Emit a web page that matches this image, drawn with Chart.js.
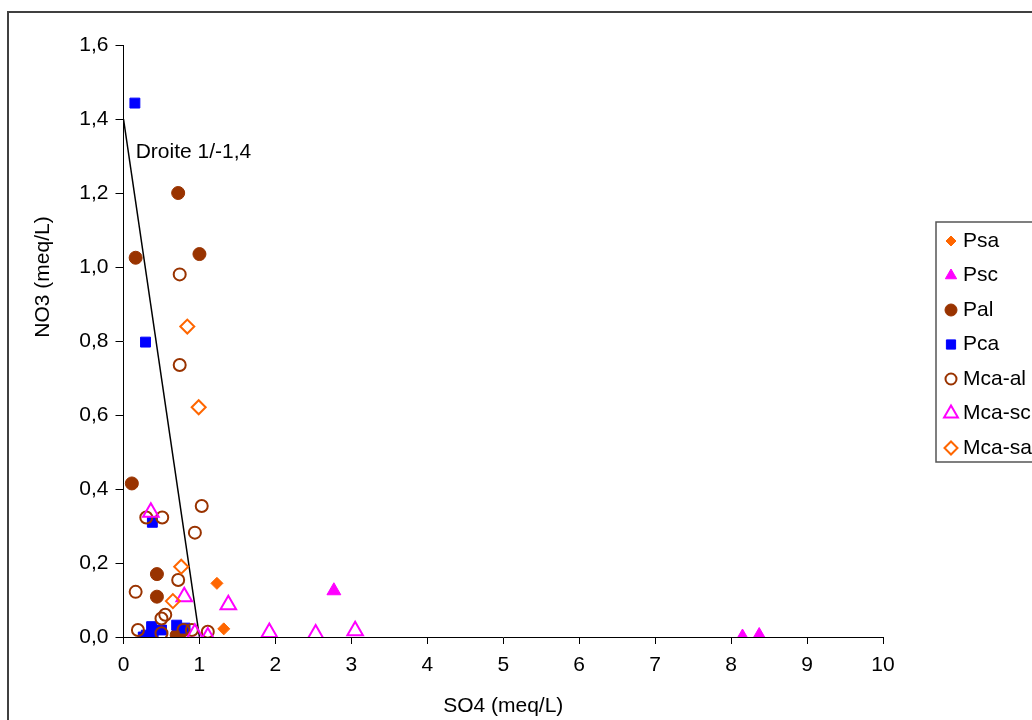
<!DOCTYPE html>
<html>
<head>
<meta charset="utf-8">
<script src="https://cdn.jsdelivr.net/npm/chart.js@4.4.1/dist/chart.umd.min.js"></script>
<style>
  html, body { margin: 0; padding: 0; background: #ffffff; overflow: hidden; }
  #wrap { position: absolute; left: 0; top: 0; width: 1032px; height: 720px; }
</style>
</head>
<body>
<div id="wrap"><canvas id="c" width="1032" height="720"></canvas></div>
<script>
// ---- Data (SO4 meq/L, NO3 meq/L) ----
const seriesNames = ['Psa', 'Psc', 'Pal', 'Pca', 'Mca-al', 'Mca-sc', 'Mca-sa'];

const psa = [[1.23, 0.145], [1.32, 0.022]];
const psc = [[2.77, 0.125], [8.15, 0.0], [8.37, 0.004]];
const pal = [[0.72, 1.20], [0.16, 1.025], [1.00, 1.035], [0.11, 0.415], [0.44, 0.17],
             [0.44, 0.109], [0.74, 0.01], [0.70, 0.005]];
const pca = [[0.15, 1.443], [0.29, 0.797], [0.38, 0.31], [0.37, 0.028], [0.30, 0.005],
             [0.39, 0.005], [0.50, 0.019], [0.70, 0.032], [0.81, 0.024], [0.26, 0.0]];
const mcaAl = [[0.74, 0.98], [0.74, 0.735], [1.03, 0.354], [0.30, 0.323], [0.51, 0.323],
               [0.94, 0.282], [0.16, 0.122], [0.72, 0.154], [0.50, 0.05], [0.55, 0.06],
               [0.19, 0.019], [0.50, 0.01], [0.79, 0.019], [0.90, 0.019], [1.11, 0.014]];
const mcaSc = [[0.36, 0.337], [0.80, 0.109], [1.38, 0.087], [0.94, 0.01], [1.11, 0.0],
               [1.92, 0.012], [2.53, 0.008], [3.05, 0.017]];
const mcaSa = [[0.84, 0.839], [0.99, 0.621], [0.76, 0.19], [0.65, 0.097]];

const droiteLine = [[0, 1.4], [1, 0]];
const droiteText = 'Droite 1/-1,4';
const droiteAnchor = [0.16, 1.31];

const xTitle = 'SO4 (meq/L)';
const yTitle = 'NO3 (meq/L)';

const xMin = 0, xMax = 10, xStep = 1;
const yMin = 0, yMax = 1.6, yStep = 0.2;

// ---- Styles ----
const FONT = "'Liberation Sans', Arial, sans-serif";
const FS = 21;
const ORANGE = '#FF6600', MAGENTA = '#FF00FF', BROWN = '#993300', BLUE = '#0000FF';
const CLEAR = 'rgba(0,0,0,0)';

const styles = [
  { pointStyle: 'rectRot',  radius: 6,   fill: ORANGE,  stroke: ORANGE,  bw: 1,   lr: 5 },
  { pointStyle: 'triangle', radius: 8,   fill: MAGENTA, stroke: MAGENTA, bw: 1,   lr: 6.5 },
  { pointStyle: 'circle',   radius: 6.5, fill: BROWN,   stroke: BROWN,   bw: 1,   lr: 6 },
  { pointStyle: 'rect',     radius: 7,   fill: BLUE,    stroke: BLUE,    bw: 1,   lr: 6.5 },
  { pointStyle: 'circle',   radius: 6,   fill: CLEAR,   stroke: BROWN,   bw: 2,   lr: 5.5 },
  { pointStyle: 'triangle', radius: 9,   fill: CLEAR,   stroke: MAGENTA, bw: 2,   lr: 8 },
  { pointStyle: 'rectRot',  radius: 7,   fill: CLEAR,   stroke: ORANGE,  bw: 2,   lr: 6.5 }
];
const seriesData = [psa, psc, pal, pca, mcaAl, mcaSc, mcaSa];

const toPts = arr => arr.map(p => ({ x: p[0], y: p[1] }));

const datasets = seriesData.map((d, i) => ({
  type: 'scatter',
  label: seriesNames[i],
  data: toPts(d),
  pointStyle: styles[i].pointStyle,
  pointRadius: styles[i].radius,
  pointHoverRadius: styles[i].radius,
  backgroundColor: styles[i].fill,
  borderColor: styles[i].stroke,
  borderWidth: styles[i].bw,
  pointBorderWidth: styles[i].bw,
  order: seriesNames.length - i
}));

datasets.push({
  type: 'line',
  label: 'Droite',
  data: toPts(droiteLine),
  borderColor: '#000000',
  borderWidth: 1.5,
  pointRadius: 0,
  fill: false,
  tension: 0,
  order: seriesNames.length + 5
});

const fmt = v => (Math.round(v * 10) / 10).toFixed(1).replace('.', ',');

const decorPlugin = {
  id: 'decor',
  beforeDraw(chart) {
    const ctx = chart.ctx;
    ctx.save();
    ctx.fillStyle = '#ffffff';
    ctx.fillRect(0, 0, chart.width, chart.height);
    ctx.restore();
  },
  afterDraw(chart) {
    const ctx = chart.ctx;
    const xs = chart.scales.x, ys = chart.scales.y;
    ctx.save();
    // outer frame
    ctx.strokeStyle = '#404040';
    ctx.lineWidth = 2;
    ctx.beginPath();
    ctx.moveTo(8, chart.height + 5);
    ctx.lineTo(8, 12);
    ctx.lineTo(chart.width + 5, 12);
    ctx.stroke();

    ctx.fillStyle = '#000000';
    ctx.font = FS + 'px ' + FONT;
    // annotation text
    ctx.textAlign = 'left';
    ctx.textBaseline = 'middle';
    ctx.fillText(droiteText, xs.getPixelForValue(droiteAnchor[0]), ys.getPixelForValue(droiteAnchor[1]));

    // axis titles
    ctx.textAlign = 'center';
    ctx.fillText(xTitle, (chart.chartArea.left + chart.chartArea.right) / 2, 706);
    ctx.save();
    ctx.translate(43, 277);
    ctx.rotate(-Math.PI / 2);
    ctx.fillText(yTitle, 0, 0);
    ctx.restore();

    // legend
    const lx = 936, ly = 222, lh = 240;
    ctx.strokeStyle = '#555555';
    ctx.lineWidth = 1.5;
    ctx.strokeRect(lx, ly, chart.width + 20 - lx, lh);
    const y0 = 241, dy = 34.5;
    seriesNames.forEach((name, i) => {
      const s = styles[i];
      const cy = y0 + i * dy;
      ctx.fillStyle = s.fill;
      ctx.strokeStyle = s.stroke;
      ctx.lineWidth = s.bw;
      Chart.helpers.drawPoint(ctx, { pointStyle: s.pointStyle, radius: s.lr, rotation: 0, borderWidth: s.bw }, 951, cy);
      ctx.fillStyle = '#000000';
      ctx.textAlign = 'left';
      ctx.textBaseline = 'middle';
      ctx.fillText(name, 963, cy);
    });
    ctx.restore();
  }
};

new Chart(document.getElementById('c'), {
  type: 'scatter',
  data: { datasets },
  plugins: [decorPlugin],
  options: {
    responsive: false,
    animation: false,
    events: [],
    layout: { padding: { top: 45, right: 149, bottom: 0, left: 0 } },
    plugins: { legend: { display: false }, tooltip: { enabled: false }, title: { display: false } },
    scales: {
      x: {
        type: 'linear',
        min: xMin, max: xMax,
        afterFit: s => { s.height = 83; },
        ticks: { stepSize: xStep, color: '#000', font: { family: FONT, size: FS }, padding: 9, maxRotation: 0 },
        grid: { display: true, drawOnChartArea: false, drawTicks: true, tickLength: 7, tickColor: '#000', tickWidth: 1 },
        border: { display: true, color: '#000', width: 1 }
      },
      y: {
        type: 'linear',
        min: yMin, max: yMax,
        afterFit: s => { s.width = 123.5; },
        ticks: { stepSize: yStep, color: '#000', font: { family: FONT, size: FS }, padding: 7, callback: v => fmt(v) },
        grid: { display: true, drawOnChartArea: false, drawTicks: true, tickLength: 8, tickColor: '#000', tickWidth: 1 },
        border: { display: true, color: '#000', width: 1 }
      }
    }
  }
});
</script>
</body>
</html>
